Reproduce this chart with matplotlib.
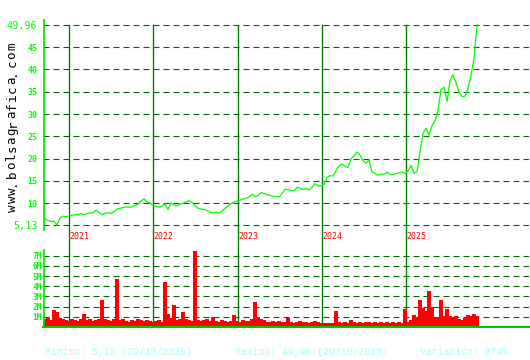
import numpy as np
import matplotlib
matplotlib.use("Agg")
import matplotlib.pyplot as plt
from matplotlib.lines import Line2D

plt.rcParams['lines.scale_dashes'] = False

# ---------------- data ----------------
price = [6.6, 6.1, 5.9, 6.0, 5.13, 6.7, 7.1, 7.0, 7.15, 7.3,
         7.45, 7.5, 7.7, 7.45, 7.7, 7.8, 7.9, 8.5, 7.9, 7.45,
         7.75, 7.9, 7.75, 8.1, 8.7, 8.85, 9.05, 9.2, 9.1, 9.2,
         9.5, 9.8, 10.5, 11.0, 10.3, 10.1, 9.5, 9.3, 9.1, 9.4,
         9.8, 8.6, 10.1, 9.6, 9.4, 9.8, 10.0, 10.3, 10.6, 10.2,
         9.4, 8.9, 8.7, 8.6, 8.4, 8.0, 7.8, 8.0, 7.8, 8.3,
         8.85, 9.4, 9.9, 10.3, 10.5, 10.7, 10.9, 11.1, 11.4, 12.0,
         11.5, 11.7, 12.4, 12.2, 11.9, 11.8, 11.6, 11.5, 11.4, 12.1,
         13.1, 13.1, 12.9, 12.8, 13.6, 13.4, 13.1, 13.3, 13.0, 13.6,
         14.4, 13.9, 13.9, 14.2, 15.8, 16.2, 16.1, 17.3, 18.4, 18.8,
         18.3, 18.0, 20.0, 20.6, 21.5, 20.8, 19.5, 19.0, 19.7, 17.0,
         16.7, 16.3, 16.6, 16.5, 17.0, 16.5, 16.4, 16.7, 16.8, 17.0,
         16.7, 17.2, 18.5, 16.7, 17.1, 21.5, 25.7, 26.8, 25.3, 27.4,
         28.5, 30.9, 35.5, 36.0, 32.8, 37.5, 38.8, 37.0, 35.0, 33.9,
         34.0, 35.8, 38.7, 42.5, 49.96]

volume_m = [0.8, 0.9, 0.7, 1.7, 1.5, 0.9, 0.8, 0.7, 0.6, 0.8,
            0.7, 0.6, 0.8, 1.3, 0.7, 0.8, 0.6, 0.7, 0.8, 2.6,
            0.8, 0.7, 0.6, 0.8, 4.7, 0.7, 0.8, 0.6, 0.5, 0.7,
            0.6, 0.8, 0.7, 0.6, 0.7, 0.6, 0.5, 0.6, 0.7, 0.5,
            4.4, 1.3, 0.9, 2.2, 0.7, 0.8, 1.5, 0.8, 0.7, 0.6,
            7.5, 0.7, 0.6, 0.7, 0.8, 0.6, 1.0, 0.6, 0.5, 0.7,
            0.6, 0.5, 0.6, 1.2, 0.6, 0.5, 0.7, 0.6, 0.6, 0.8,
            2.5, 1.0, 0.8, 0.7, 0.5, 0.5, 0.6, 0.5, 0.6, 0.5,
            0.5, 0.9, 0.5, 0.4, 0.5, 0.6, 0.5, 0.5, 0.4, 0.5,
            0.6, 0.5, 0.4, 0.35, 0.4, 0.35, 0.4, 1.6, 0.5, 0.4,
            0.5, 0.4, 0.7, 0.5, 0.4, 0.5, 0.4, 0.5, 0.5, 0.4,
            0.5, 0.4, 0.5, 0.4, 0.5, 0.4, 0.5, 0.4, 0.5, 0.4,
            1.8, 0.5, 0.7, 1.2, 1.0, 2.6, 1.9, 1.6, 3.5, 2.0,
            1.0, 1.0, 2.6, 1.1, 1.8, 1.1, 1.0, 1.1, 0.8, 0.7,
            0.9, 1.2, 1.1, 1.3, 1.1]

years = [2021, 2022, 2023, 2024, 2025]
price_ticks = [45, 40, 35, 30, 25, 20, 15, 10]
price_min, price_max = 5.13, 49.96
price_min_lbl, price_max_lbl = "5,13", "49,96"
vol_ticks = [1, 2, 3, 4, 5, 6, 7]
vol_labels = ["1M", "2M", "3M", "4M", "5M", "6M", "7M"]
footer = ["Minimo: 5,13 (29/10/2020)", "Maximo: 49,96 (29/10/2025)",
          "Variación: 874%"]
site = "www.bolsagrafica.com"
t_start, t_end = 2020.715, 2025.843   # span of the series in years

# ---------------- layout ----------------
W, H = 530, 360
fig = plt.figure(figsize=(W / 100, H / 100), dpi=100)
fig.patch.set_facecolor("white")


def rect(l, t, r, b):
    return [l / W, 1 - b / H, (r - l) / W, (b - t) / H]


ax = fig.add_axes(rect(43, 20, 529, 240))
axv = fig.add_axes(rect(43, 240, 529, 327))

ppx = 84.25                      # pixels per year
xlo = 2021 - 26 / ppx
xhi = 2021 + 460 / ppx
py = 200 / (price_max - price_min)   # pixels per price unit

GRID = "#006400"
VLINE = "#008000"
BRIGHT = "#00FF00"
dash = (0, (4.3, 2.9))

t_p = np.linspace(t_start, t_end, len(price))
t_v = np.linspace(t_start, t_end, len(volume_m))

# ---------------- main price panel ----------------
ax.set_xlim(xlo, xhi)
ax.set_ylim(price_min - 15 / py, price_max + 5 / py)
for s in ax.spines.values():
    s.set_visible(False)
ax.set_xticks([])
yt = [price_max] + price_ticks + [price_min]
ax.set_yticks(yt)
ax.set_yticklabels([price_max_lbl] + [str(v) for v in price_ticks] + [price_min_lbl])
ax.tick_params(axis="y", length=0, pad=4, colors=BRIGHT)
for i, lbl in enumerate(ax.get_yticklabels()):
    lbl.set_family("DejaVu Sans Mono")
    if i == 0 or i == len(yt) - 1:
        lbl.set_fontsize(7.3)
    else:
        lbl.set_fontsize(6)
        lbl.set_fontweight("bold")
for v in yt:
    ax.axhline(v, color=GRID, lw=0.8, linestyle=dash, zorder=1)
for y in years:
    ax.axvline(y, ymin=0, ymax=(240 - 25) / 220, color=VLINE, lw=1.0, zorder=1)
    ax.text(y + 0.6 / ppx, (240 - 236.5) / 220, str(y), transform=ax.get_xaxis_transform(),
            color="#FF0000", fontsize=6, family="DejaVu Sans Mono",
            ha="left", va="center", zorder=4)
ax.plot(t_p, price, color=BRIGHT, lw=0.9, zorder=3)

# ---------------- volume panel ----------------
vpx = 10.2
axv.set_xlim(xlo, xhi)
axv.set_ylim(0, 87 / vpx)
for k, s in axv.spines.items():
    s.set_visible(k == "bottom")
axv.spines["bottom"].set_color("#00C800")
axv.spines["bottom"].set_linewidth(1.5)
axv.spines["bottom"].set_zorder(5)
axv.set_xticks([])
axv.set_yticks(vol_ticks)
axv.set_yticklabels(vol_labels)
axv.tick_params(axis="y", length=0, pad=1, colors=BRIGHT)
for lbl in axv.get_yticklabels():
    lbl.set_family("DejaVu Sans Mono")
    lbl.set_fontsize(5.5)
    lbl.set_fontweight("bold")
for v in vol_ticks:
    axv.axhline(v, color=GRID, lw=0.8, linestyle=dash, zorder=1)
for y in years:
    axv.axvline(y, color=VLINE, lw=1.0, zorder=1)
axv.bar(t_v, volume_m, width=(t_end - t_start) / (len(volume_m) - 1) * 1.02,
        color="#FF0000", linewidth=0, zorder=2, align="center", antialiased=False)

# ---------------- left axis lines ----------------
fig.add_artist(Line2D([43.5 / W, 43.5 / W], [1 - 20 / H, 1 - 230 / H],
                      transform=fig.transFigure, color="#00E000", lw=1.2))
fig.add_artist(Line2D([43.5 / W, 43.5 / W], [1 - 250 / H, 1 - 326 / H],
                      transform=fig.transFigure, color="#00E000", lw=1.2))

# ---------------- vertical site text ----------------
for i, ch in enumerate(site):
    fig.text(15.5 / W, 1 - (208 - i * 8.5) / H, ch, rotation=90,
             rotation_mode="anchor", ha="center", va="baseline",
             fontsize=9, family="DejaVu Sans Mono", color="black")

# ---------------- footer ----------------
for xp, s in zip([45, 235, 420], footer):
    fig.text(xp / W, 1 - 352 / H, s, family="Liberation Mono", fontsize=7,
             color="#A8FFFF", ha="left", va="center")

fig.savefig("out.png", dpi=100, facecolor="white")
